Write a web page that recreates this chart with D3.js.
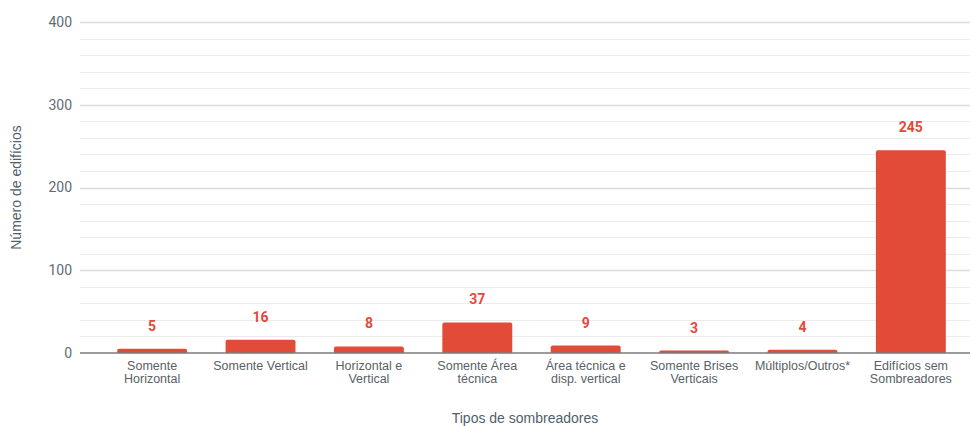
<!DOCTYPE html>
<html>
<head>
<meta charset="utf-8">
<script src="https://cdn.jsdelivr.net/npm/d3@7"></script>
<style>
  html, body { margin: 0; padding: 0; background: #fff; }
  svg { display: block; }
</style>
</head>
<body>
<svg id="chart" width="972" height="426"></svg>
<script>
// Shading device types (each entry split into the lines it is drawn on)
const categories = [
  ["Somente", "Horizontal"],
  ["Somente Vertical"],
  ["Horizontal e", "Vertical"],
  ["Somente Área", "técnica"],
  ["Área técnica e", "disp. vertical"],
  ["Somente Brises", "Verticais"],
  ["Múltiplos/Outros*"],
  ["Edifícios sem", "Sombreadores"]
];
const values = [5, 16, 8, 37, 9, 3, 4, 245];
const yTicks = [0, 100, 200, 300, 400];
const yMinorTicks = d3.range(0, 401, 20);

const svg = d3.select("#chart");
const gridLeft = 80, gridRight = 970;
const plotTop = 22, plotBottom = 353;

const x = d3.scaleBand()
  .domain(d3.range(categories.length))
  .range([98, 965])
  .paddingInner(0.355)
  .paddingOuter(0.177);

const y = d3.scaleLinear().domain([0, 400]).range([plotBottom, plotTop]);

// Minor and major gridlines
svg.append("g").selectAll("line")
  .data(yMinorTicks.filter(d => d !== 0))
  .join("line")
  .attr("x1", gridLeft).attr("x2", gridRight)
  .attr("y1", d => Math.round(y(d)) + 0.5).attr("y2", d => Math.round(y(d)) + 0.5)
  .attr("stroke", d => d % 100 === 0 ? "#dcdcdc" : "#ebebeb")
  .attr("stroke-width", d => d % 100 === 0 ? 1.3 : 1);

// Y axis labels
svg.append("g").selectAll("text")
  .data(yTicks)
  .join("text")
  .attr("x", 72).attr("y", d => y(d))
  .attr("dy", "0.35em")
  .attr("text-anchor", "end")
  .attr("font-family", "Roboto, Arial, sans-serif")
  .attr("font-size", 14)
  .attr("fill", "#5f6b74")
  .text(d => d);

// Bars with slightly rounded tops
const r = 2;
svg.append("g").selectAll("path")
  .data(values)
  .join("path")
  .attr("fill", "#e14b38")
  .attr("d", (d, i) => {
    const x0 = x(i), w = x.bandwidth(), y0 = y(d), y1 = y(0);
    const rr = Math.min(r, (y1 - y0));
    return `M${x0},${y1}V${y0 + rr}Q${x0},${y0} ${x0 + rr},${y0}H${x0 + w - rr}Q${x0 + w},${y0} ${x0 + w},${y0 + rr}V${y1}Z`;
  });

// Baseline
svg.append("line")
  .attr("x1", gridLeft).attr("x2", gridRight)
  .attr("y1", y(0)).attr("y2", y(0))
  .attr("stroke", "#7a7a7a").attr("stroke-width", 1.5);

// Value labels
svg.append("g").selectAll("text")
  .data(values)
  .join("text")
  .attr("x", (d, i) => x(i) + x.bandwidth() / 2)
  .attr("y", d => y(d) - 18)
  .attr("text-anchor", "middle")
  .attr("font-family", "Roboto, Arial, sans-serif")
  .attr("font-weight", "bold")
  .attr("font-size", 14)
  .attr("fill", "#e5493a")
  .text(d => d);

// Category labels
const cat = svg.append("g").selectAll("text")
  .data(categories)
  .join("text")
  .attr("x", (d, i) => x(i) + x.bandwidth() / 2)
  .attr("y", 370)
  .attr("text-anchor", "middle")
  .attr("font-family", "Arial, 'Liberation Sans', sans-serif")
  .attr("font-size", 12.5)
  .attr("fill", "#585f66");
cat.selectAll("tspan")
  .data((d, i) => d.map(line => ({ line, i })))
  .join("tspan")
  .attr("x", d => x(d.i) + x.bandwidth() / 2)
  .attr("dy", (d, j) => j === 0 ? 0 : 13)
  .text(d => d.line);

// Axis titles
svg.append("text")
  .attr("transform", `translate(21,${(plotTop + plotBottom) / 2}) rotate(-90)`)
  .attr("text-anchor", "middle")
  .attr("font-family", "Arial, 'Liberation Sans', sans-serif")
  .attr("font-size", 14)
  .attr("fill", "#4f5f6b")
  .text("Número de edifícios");

svg.append("text")
  .attr("x", 525).attr("y", 423)
  .attr("text-anchor", "middle")
  .attr("font-family", "Arial, 'Liberation Sans', sans-serif")
  .attr("font-size", 14)
  .attr("fill", "#4f5f6b")
  .text("Tipos de sombreadores");
</script>
</body>
</html>
